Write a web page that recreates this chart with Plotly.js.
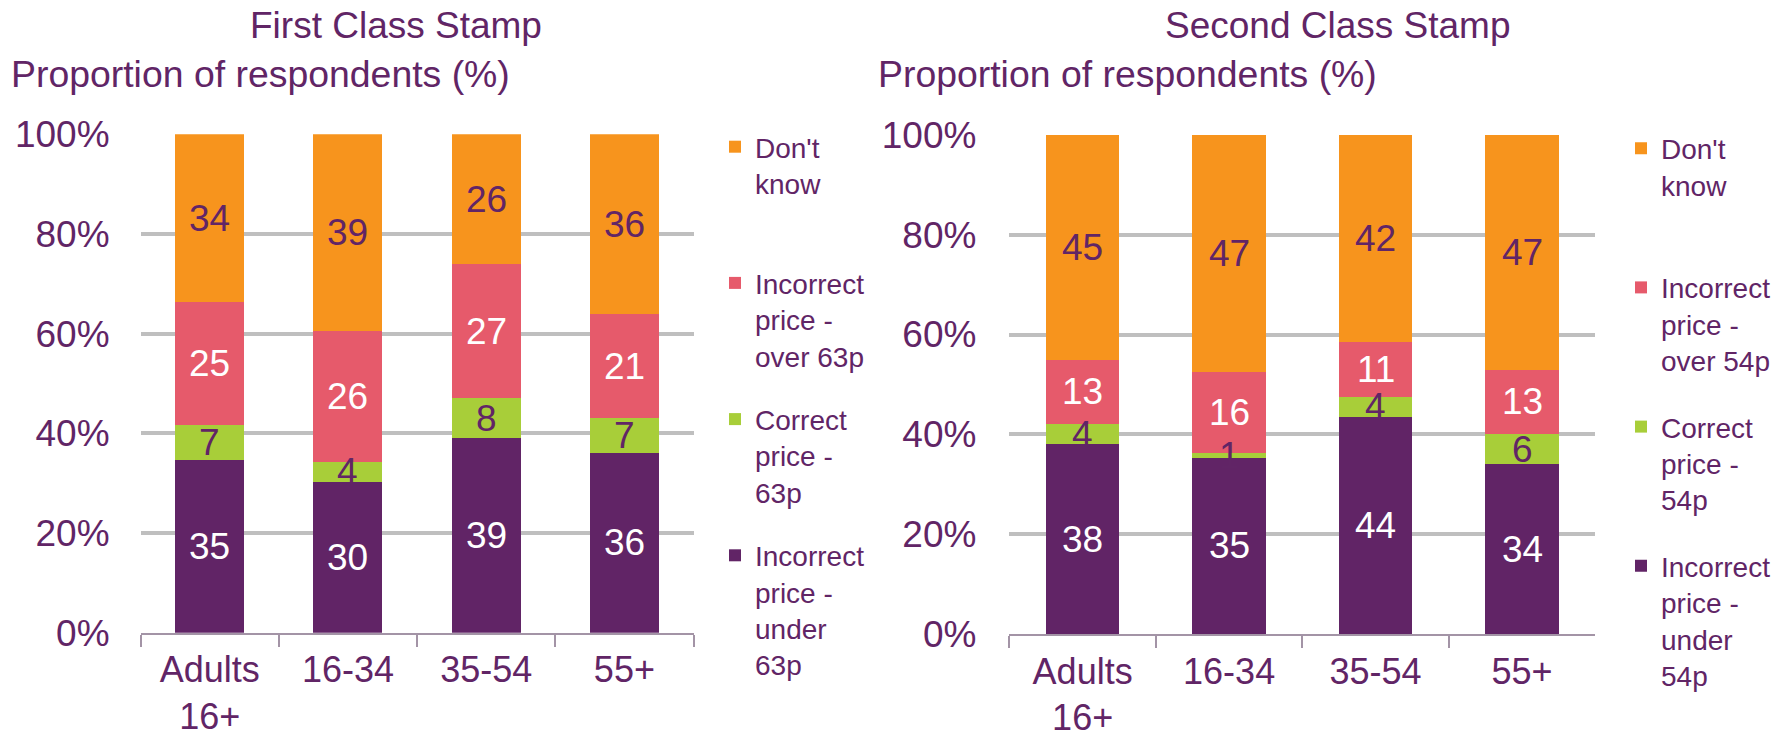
<!DOCTYPE html>
<html>
<head>
<meta charset="utf-8">
<script src="https://cdn.plot.ly/plotly-3.0.1.min.js"></script>
<style>html,body{margin:0;padding:0;background:#fff;}#chart{width:1786px;height:738px;}</style>
</head>
<body>
<div id="chart"></div>
<script>
// ---- Data ----
const categories = ['Adults<br>16+', '16-34', '35-54', '55+'];
const seriesNames1 = ["Incorrect<br>price -<br>under<br>63p", "Correct<br>price -<br>63p", "Incorrect<br>price -<br>over 63p", "Don't<br>know<br> "];
const seriesNames2 = ["Incorrect<br>price -<br>under<br>54p", "Correct<br>price -<br>54p", "Incorrect<br>price -<br>over 54p", "Don't<br>know<br> "];
const under1 = [35, 30, 39, 36];
const correct1 = [7, 4, 8, 7];
const over1 = [25, 26, 27, 21];
const dontKnow1 = [34, 39, 26, 36];
const under2 = [38, 35, 44, 34];
const correct2 = [4, 1, 4, 6];
const over2 = [13, 16, 11, 13];
const dontKnow2 = [45, 47, 42, 47];
const chartTitles = ['First Class Stamp', 'Second Class Stamp'];
const yTitle = 'Proportion of respondents (%)';

// ---- Styles ----
const W = 1786, H = 738;
const PURPLE_TEXT = '#612566';
const colors = ['#612466', '#A8CE39', '#E65A6B', '#F7941D'];
const labelColors = ['#FFFFFF', PURPLE_TEXT, '#FFFFFF', PURPLE_TEXT];
const FONT = 'Liberation Sans, Arial, sans-serif';

const sets = [
  {series: [under1, correct1, over1, dontKnow1], names: seriesNames1, xa: 'x', ya: 'y', legend: 'legend'},
  {series: [under2, correct2, over2, dontKnow2], names: seriesNames2, xa: 'x2', ya: 'y2', legend: 'legend2'}
];

const traces = [];
const annotations = [];
sets.forEach((s, si) => {
  s.series.forEach((vals, k) => {
    traces.push({
      type: 'bar', x: categories, y: vals, name: s.names[k],
      xaxis: s.xa, yaxis: s.ya, legend: s.legend, legendgroup: 'g' + si + '_' + k,
      legendrank: 10 - k,
      marker: {color: colors[k], line: {width: 0}},
      hoverinfo: 'skip'
    });
  });
  // data labels at the middle of each normalised segment
  categories.forEach((c, i) => {
    const total = s.series.reduce((a, arr) => a + arr[i], 0);
    let cum = 0;
    s.series.forEach((vals, k) => {
      const mid = (cum + vals[i] / 2) / total * 100;
      cum += vals[i];
      annotations.push({
        x: c, y: mid, xref: s.xa, yref: s.ya, text: String(vals[i]), showarrow: false,
        font: {family: FONT, size: 37, color: labelColors[k]}
      });
    });
  });
});

// chart titles and y titles
annotations.push({x: 396 / W, y: 1 - 26 / H, xref: 'paper', yref: 'paper', text: chartTitles[0], showarrow: false,
  xanchor: 'center', yanchor: 'middle', font: {family: FONT, size: 37, color: PURPLE_TEXT}});
annotations.push({x: 1338 / W, y: 1 - 26 / H, xref: 'paper', yref: 'paper', text: chartTitles[1], showarrow: false,
  xanchor: 'center', yanchor: 'middle', font: {family: FONT, size: 37, color: PURPLE_TEXT}});
annotations.push({x: 9 / W, y: 1 - 74 / H, xref: 'paper', yref: 'paper', text: yTitle, showarrow: false,
  xanchor: 'left', yanchor: 'middle', font: {family: FONT, size: 37.4, color: PURPLE_TEXT}});
annotations.push({x: 876 / W, y: 1 - 74 / H, xref: 'paper', yref: 'paper', text: yTitle, showarrow: false,
  xanchor: 'left', yanchor: 'middle', font: {family: FONT, size: 37.4, color: PURPLE_TEXT}});

function xaxis(d0, d1, anchor) {
  return {
    domain: [d0 / W, d1 / W], anchor: anchor, type: 'category',
    showgrid: false, zeroline: false, showline: true, linecolor: '#A394A6', linewidth: 2,
    ticks: 'outside', tickson: 'boundaries', ticklen: 12, tickwidth: 2, tickcolor: '#A394A6',
    tickfont: {family: FONT, size: 36, color: PURPLE_TEXT}, ticklabelstandoff: 4, fixedrange: true
  };
}
function yaxis(bottom, top, anchor, standoff) {
  return {
    domain: [1 - bottom / H, 1 - top / H], anchor: anchor, range: [0, 100], dtick: 20, ticksuffix: '%',
    showgrid: true, gridcolor: '#BFBFBF', gridwidth: 4, zeroline: false, showline: false, ticks: '',
    tickfont: {family: FONT, size: 37, color: PURPLE_TEXT}, ticklabelstandoff: standoff, fixedrange: true
  };
}

const legendCommon = {
  yanchor: 'top', xanchor: 'left', bgcolor: 'rgba(0,0,0,0)', borderwidth: 0,
  traceorder: 'grouped', valign: 'top', itemclick: false, itemdoubleclick: false,
  font: {family: FONT, size: 28, color: PURPLE_TEXT}
};

const layout = {
  width: W, height: H, margin: {l: 0, r: 0, t: 0, b: 0},
  paper_bgcolor: '#FFFFFF', plot_bgcolor: 'rgba(0,0,0,0)',
  barmode: 'stack', barnorm: 'percent', bargap: 0.5,
  font: {family: FONT, color: PURPLE_TEXT},
  xaxis: xaxis(140.6, 693.5, 'y'),
  yaxis: yaxis(632.7, 134.3, 'x', 30),
  xaxis2: xaxis(1009.4, 1595.3, 'y2'),
  yaxis2: yaxis(634.3, 134.7, 'x2', 32),
  legend: Object.assign({}, legendCommon, {x: 715 / W, y: 1 - 122 / H, tracegroupgap: 24}),
  legend2: Object.assign({}, legendCommon, {x: 1621 / W, y: 1 - 123.5 / H, tracegroupgap: 27}),
  annotations: annotations,
  showlegend: true
};

Plotly.newPlot('chart', traces, layout, {displayModeBar: false, staticPlot: true});
</script>
</body>
</html>
